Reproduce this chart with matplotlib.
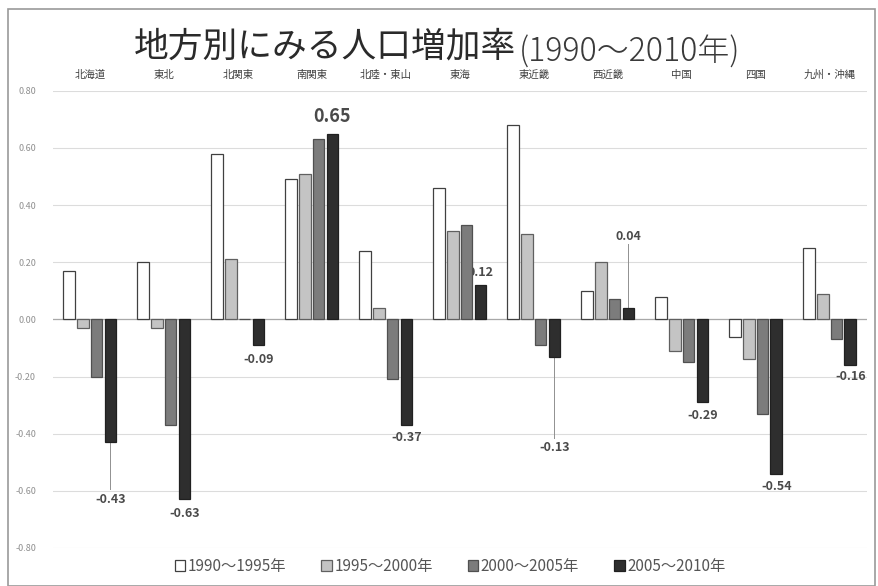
import numpy as np
import matplotlib
matplotlib.use("Agg")
import matplotlib.pyplot as plt
from matplotlib.patches import Rectangle

plt.rcParams["font.family"] = ["Noto Sans CJK JP", "DejaVu Sans"]

regions = ["北海道", "東北", "北関東", "南関東", "北陸・東山", "東海",
           "東近畿", "西近畿", "中国", "四国", "九州・沖縄"]
periods = ["1990～1995年", "1995～2000年", "2000～2005年", "2005～2010年"]
yticks = [-0.8, -0.6, -0.4, -0.2, 0.0, 0.2, 0.4, 0.6, 0.8]

rate_90_95 = [0.17, 0.20, 0.58, 0.49, 0.24, 0.46, 0.68, 0.10, 0.08, -0.06, 0.25]
rate_95_00 = [-0.03, -0.03, 0.21, 0.51, 0.04, 0.31, 0.30, 0.20, -0.11, -0.14, 0.09]
rate_00_05 = [-0.20, -0.37, 0.00, 0.63, -0.21, 0.33, -0.09, 0.07, -0.15, -0.33, -0.07]
rate_05_10 = [-0.43, -0.63, -0.09, 0.65, -0.37, 0.12, -0.13, 0.04, -0.29, -0.54, -0.16]

# where the value labels of the last period sit (data units), and leader lines
label_y = [-0.63, -0.68, -0.14, 0.71, -0.415, 0.165, -0.45, 0.29, -0.335, -0.585, -0.20]
leader = {0: (-0.43, -0.595), 6: (-0.13, -0.415), 7: (0.265, 0.04)}

series = [rate_90_95, rate_95_00, rate_00_05, rate_05_10]
colors = ["#ffffff", "#c4c4c4", "#7c7c7c", "#2e2e2e"]
edges = ["#404040", "#606060", "#505050", "#202020"]

fig = plt.figure(figsize=(8.79, 5.86), dpi=100)
ax = fig.add_axes([0.060, 0.065, 0.926, 0.780])

x = np.arange(len(regions))
width = 0.155
step = 0.185
handles = []
for i, vals in enumerate(series):
    b = ax.bar(x + (i - 1.5) * step, vals, width, color=colors[i],
               edgecolor=edges[i], linewidth=0.9, zorder=3, label=periods[i])
    handles.append(b)

ax.set_xlim(-0.5, len(regions) - 0.5)
ax.set_ylim(-0.8, 0.8)
ax.set_yticks(yticks)
ax.set_yticklabels(["%.2f" % v for v in yticks], fontsize=6.5, color="#909090")
ax.yaxis.grid(True, color="#dcdcdc", linewidth=0.8, zorder=0)
ax.axhline(0, color="#a8a8a8", linewidth=0.9, zorder=2)
ax.tick_params(axis="y", length=0, pad=12)

ax.xaxis.tick_top()
ax.set_xticks(x)
ax.set_xticklabels(regions, fontsize=7.5, color="#404040")
ax.tick_params(axis="x", length=0, pad=8)
for s in ax.spines.values():
    s.set_visible(False)

# value labels on the 2005~2010 series
xd = x + 1.5 * step
for i, v in enumerate(rate_05_10):
    big = (i == 3)
    ax.text(xd[i], label_y[i], "%.2f" % v, ha="center", va="center",
            fontsize=13 if big else 9, fontweight="bold", color="#4a4a4a",
            zorder=2.5 if i == 5 else 4)
for i, (y0, y1) in leader.items():
    ax.plot([xd[i], xd[i]], [y0, y1], color="#909090", linewidth=0.7, zorder=2)

# title: big main part and smaller bracket part
t1 = fig.text(0.152, 0.920, "地方別にみる人口増加率", fontsize=25,
              color="#2a2a2a", ha="left", va="center")
fig.canvas.draw()
bb = t1.get_window_extent(fig.canvas.get_renderer())
fig.text(bb.x1 / fig.bbox.width + 0.003, 0.911, "(1990～2010年)", fontsize=23,
         color="#3a3a3a", ha="left", va="center", fontweight="light")

leg = fig.legend(handles=handles, loc="center", bbox_to_anchor=(0.512, 0.033),
                 ncol=4, frameon=False, fontsize=11, handlelength=0.7,
                 handleheight=0.7, handletextpad=0.15, columnspacing=2.3)
for t in leg.get_texts():
    t.set_color("#555555")

# outer frame
fig.patches.append(Rectangle((0.009, 0.0), 0.987, 0.985, transform=fig.transFigure,
                             fill=False, edgecolor="#9a9a9a", linewidth=1.2))

fig.savefig("out.png", dpi=100)
